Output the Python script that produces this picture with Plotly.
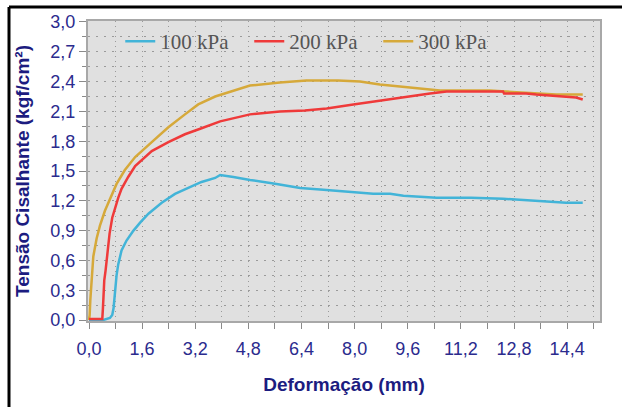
import plotly.graph_objects as go

# ---- data ----
series_names = ["100 kPa", "200 kPa", "300 kPa"]

x_100 = [0.0, 0.43, 0.63, 0.70, 0.74, 0.78, 0.83, 0.88, 0.98, 1.13, 1.34, 1.54, 1.79, 2.19, 2.59,
         2.99, 3.39, 3.80, 3.95, 4.35, 4.85, 5.65, 6.36, 7.06, 7.86, 8.56, 9.07, 9.47, 10.47,
         11.5, 12.47, 13.47, 14.37, 14.87]
y_100 = [0.0, 0.0, 0.02, 0.05, 0.12, 0.30, 0.45, 0.56, 0.70, 0.80, 0.90, 0.98, 1.07, 1.18, 1.27,
         1.33, 1.39, 1.43, 1.46, 1.44, 1.41, 1.37, 1.33, 1.31, 1.29, 1.27, 1.27, 1.25, 1.23,
         1.23, 1.22, 1.20, 1.18, 1.18]

x_200 = [0.0, 0.40, 0.42, 0.46, 0.50, 0.55, 0.62, 0.70, 0.80, 0.88, 0.98, 1.18, 1.39, 1.64, 1.89,
         2.39, 2.89, 3.39, 3.95, 4.85, 5.75, 6.50, 7.16, 7.96, 8.76, 9.36, 9.67, 10.27, 10.77,
         12.47, 12.50, 13.17, 13.47, 14.17, 14.67, 14.87]
y_200 = [0.01, 0.01, 0.12, 0.40, 0.50, 0.65, 0.87, 1.03, 1.15, 1.23, 1.32, 1.44, 1.55, 1.63, 1.70,
         1.79, 1.87, 1.93, 2.00, 2.07, 2.10, 2.11, 2.13, 2.17, 2.21, 2.24, 2.25, 2.28, 2.30,
         2.30, 2.28, 2.28, 2.27, 2.25, 2.24, 2.22]

x_300 = [0.0, 0.02, 0.04, 0.08, 0.13, 0.23, 0.33, 0.48, 0.63, 0.83, 1.08, 1.39, 1.89, 2.39, 2.89,
         3.29, 3.80, 4.35, 4.85, 5.75, 6.55, 7.50, 8.16, 8.76, 9.36, 9.67, 10.57, 12.07, 13.17,
         14.07, 14.87]
y_300 = [0.0, 0.05, 0.20, 0.44, 0.64, 0.82, 0.95, 1.10, 1.22, 1.37, 1.51, 1.64, 1.79, 1.94, 2.07,
         2.17, 2.25, 2.31, 2.36, 2.39, 2.41, 2.41, 2.40, 2.37, 2.35, 2.34, 2.31, 2.31, 2.29,
         2.27, 2.27]

colors = {"100 kPa": "#42b4d8", "200 kPa": "#ef3a3a", "300 kPa": "#d6a93a"}

x_title = "Deformação (mm)"
y_title = "Tensão Cisalhante (kgf/cm²)"

fig = go.Figure()
# draw order: 300 below, red on top (legend order kept by legendrank)
for name, xs, ys, rank in [("300 kPa", x_300, y_300, 3), ("100 kPa", x_100, y_100, 1),
                           ("200 kPa", x_200, y_200, 2)]:
    fig.add_trace(go.Scatter(x=xs, y=ys, mode="lines", name=name, legendrank=rank,
                             line=dict(color=colors[name], width=2.5)))

tick_font = dict(family="Liberation Sans, Arial", size=18, color="#2b2b8e")
title_font = dict(family="Liberation Sans, Arial", size=19, color="#1c1c80", weight="bold")

fig.update_layout(
    width=622, height=407,
    margin=dict(l=88, r=22, t=19, b=86),
    paper_bgcolor="white",
    plot_bgcolor="#e0e0e0",
    separators=", ",
    showlegend=True,
    legend=dict(orientation="h", x=0.063, y=1.0, xanchor="left", yanchor="top",
                bgcolor="rgba(0,0,0,0)", entrywidth=84, traceorder="normal",
                font=dict(family="Liberation Serif, Times New Roman", size=21, color="#555555")),
    xaxis=dict(
        range=[-0.03, 15.39], dtick=1.6, tick0=0, tickformat=".1f",
        ticks="outside", ticklen=6, tickcolor="#8a8a8a", tickfont=tick_font,
        ticklabelstandoff=4,
        showline=True, mirror=True, linecolor="#a8a8a8", linewidth=2,
        showgrid=True, gridcolor="#9a9a9a", gridwidth=1, griddash="1px,4px",
        zeroline=False,
        minor=dict(dtick=0.8, ticks="outside", ticklen=6, tickcolor="#8a8a8a",
                   showgrid=True, gridcolor="#9a9a9a", griddash="1px,4px"),
        title=dict(text=x_title, font=title_font, standoff=20),
    ),
    yaxis=dict(
        range=[-0.01, 3.01], dtick=0.3, tick0=0, tickformat=".1f",
        ticks="outside", ticklen=7, tickcolor="#8a8a8a", tickfont=tick_font,
        showline=True, mirror=True, linecolor="#a8a8a8", linewidth=2,
        showgrid=True, gridcolor="#9a9a9a", gridwidth=1, griddash="2px,6px",
        zeroline=False,
        minor=dict(dtick=0.15, ticks="outside", ticklen=4, tickcolor="#8a8a8a",
                   showgrid=True, gridcolor="#9a9a9a", griddash="2px,6px"),
        title=dict(text=y_title, font=title_font, standoff=16),
    ),
)

# outer black frame (top and left edges visible in the reference)
fig.add_shape(type="line", xref="paper", yref="paper", x0=-0.1543, x1=1.05, y0=1.0464, y1=1.0464,
              line=dict(color="black", width=3))
fig.add_shape(type="line", xref="paper", yref="paper", x0=-0.1543, x1=-0.1543, y0=1.0464, y1=-0.3,
              line=dict(color="black", width=3))

fig.write_html("out.html", config={"displayModeBar": False},
               post_script="document.body.style.margin='0';")
